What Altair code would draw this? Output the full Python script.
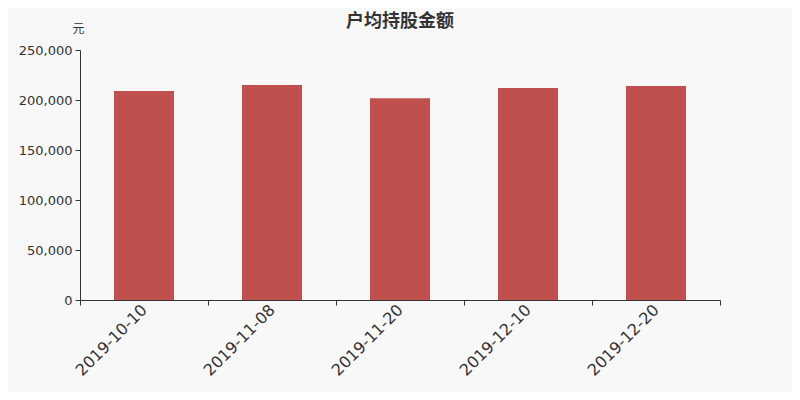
import altair as alt
import pandas as pd

dates = ["2019-10-10", "2019-11-08", "2019-11-20", "2019-12-10", "2019-12-20"]
values = [209000, 215000, 201700, 212000, 214000]
y_ticks = [0, 50000, 100000, 150000, 200000, 250000]

df = pd.DataFrame({"date": dates, "value": values})

FONT = "Noto Sans CJK SC"

bars = alt.Chart(df).mark_bar(color="#c0504d", size=60).encode(
    x=alt.X("date:N", sort=None, title=None,
            scale=alt.Scale(paddingInner=0, paddingOuter=0),
            axis=alt.Axis(labelAngle=-45, labelAlign="right", labelBaseline="middle",
                          labelFontSize=16, labelColor="#333333", labelFont="DejaVu Sans",
                          labelPadding=2,
                          tickBand="extent", tickSize=5, tickColor="#333333",
                          domainColor="#333333", grid=False)),
    y=alt.Y("value:Q", title="元",
            scale=alt.Scale(domain=[0, 250000], nice=False),
            axis=alt.Axis(values=y_ticks, format=",.0f",
                          labelFontSize=13, labelColor="#333333", labelFont="DejaVu Sans",
                          labelPadding=3,
                          tickSize=5, tickColor="#333333", domainColor="#333333",
                          grid=False, titleAngle=0, titleX=-2, titleY=-22,
                          titleAlign="center", titleBaseline="middle",
                          titleFontSize=12, titleFontWeight="normal", titleFont=FONT,
                          titleColor="#333333")),
)

chart = bars.properties(
    width=640, height=250,
    title=alt.TitleParams("户均持股金额", font=FONT, fontSize=18, fontWeight="bold",
                          color="#333333", anchor="middle", frame="group", offset=-9),
    background="#f8f8f8",
    padding={"left": 72, "top": 42, "right": 72, "bottom": 92},
    autosize=alt.AutoSizeParams(type="none"),
).configure_view(stroke=None)

chart.save("out.html", embed_options={"renderer": "svg", "actions": False})
